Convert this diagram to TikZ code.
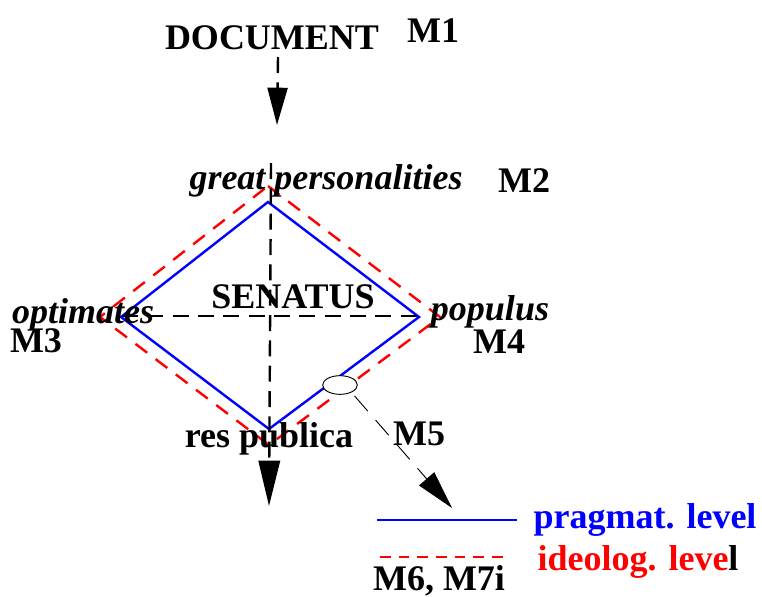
\documentclass[tikz,border=0pt]{standalone}
\usepackage{fontspec}
\setmainfont{Liberation Serif}
\usetikzlibrary{arrows.meta,shapes.geometric}
\begin{document}
\begin{tikzpicture}[x=0.75pt,y=-0.75pt,
  lbl/.style={font=\fontsize{27}{30}\selectfont\bfseries, inner sep=0pt, anchor=base},
  ilbl/.style={lbl, font=\fontsize{27}{30}\selectfont\bfseries\itshape},
  blueline/.style={blue, line width=1.8pt},
  redline/.style={red, line width=1.8pt, dash pattern=on 11pt off 8pt},
  axisline/.style={black, line width=1.8pt, dash pattern=on 12pt off 7pt},
  thinline/.style={black, line width=0.7pt, dash pattern=on 15pt off 9pt},
  bigtip/.style={-{Triangle[length=28pt,width=15pt]}},
  ell/.style={draw=black, fill=white, line width=0.7pt, ellipse, minimum width=26pt, minimum height=14pt, inner sep=0pt}
]
\useasboundingbox (0,0) rectangle (762,596);

% blue diamond vertices
\coordinate (bT) at (268,202);
\coordinate (bR) at (419,317);
\coordinate (bB) at (269,429);
\coordinate (bL) at (121,317);
% red diamond vertices
\coordinate (rT) at (268,186);
\coordinate (rR) at (440,317);
\coordinate (rB) at (269,445);
\coordinate (rL) at (100,317);

% axes
\coordinate (vTop) at (271,163);
\coordinate (vBot) at (269,506);
\coordinate (hL) at (122,316);
\coordinate (hR) at (424,316);
\coordinate (dTop) at (278,57);
\coordinate (dTip) at (277,125);

\draw[redline] (rT) -- (rR) -- (rB) -- (rL) -- cycle;
\draw[blueline] (bT) -- (bR) -- (bB) -- (bL) -- cycle;

\draw[axisline] (hL) -- (hR);
\draw[axisline, -{Triangle[length=34pt,width=16pt]}] (vTop) -- (vBot);
\draw[axisline, bigtip] (dTop) -- (dTip);

% ellipse on the lower right edge
\node[ell] (e) at (340,385) {};
\coordinate (m5tip) at (452,508);
\draw[thinline, -{Triangle[length=29pt,width=15pt]}] (e.south east) ++(2,4) coordinate (m5s) (m5s) -- (m5tip);

% labels
\node[lbl] (doc) at (272,49) {DOCUMENT};
\node[lbl] (m1) at (433,42) {M1};
\node[ilbl] (gp) at (326,189) {great personalities};
\node[lbl] (m2) at (524,192) {M2};
\node[lbl] (sen) at (293,308) {SENATUS};
\node[ilbl] (opt) at (83,323) {optimates};
\node[lbl] (m3) at (36,352) {M3};
\node[ilbl] (pop) at (490,320) {populus};
\node[lbl] (m4) at (499,353) {M4};
\node[lbl] (rp) at (269,447) {res publica};
\node[lbl] (m5) at (419,445) {M5};

% legend
\coordinate (lb1) at (377,520);
\coordinate (lb2) at (517,520);
\coordinate (lr1) at (380,557);
\coordinate (lr2) at (505,557);
\draw[blueline] (lb1) -- (lb2);
\draw[redline, dash pattern=on 8pt off 6pt] (lr1) -- (lr2);
\node[lbl, blue] (pl) at (645,528) {pragmat. level};
\node[lbl] (il) at (638,570) {\textcolor{red}{ideolog. leve}l};
\node[lbl] (m67) at (439,590) {M6, M7i};
\end{tikzpicture}
\end{document}
